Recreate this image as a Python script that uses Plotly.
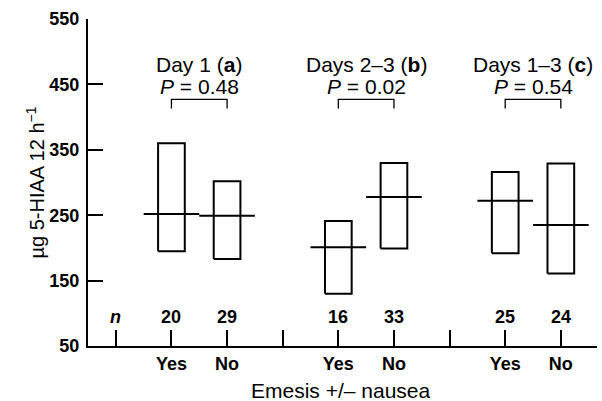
import plotly.graph_objects as go

# ---- data ----
groups = ["Day 1", "Days 2–3", "Days 1–3"]
group_letters = ["a", "b", "c"]
p_values = ["0.48", "0.02", "0.54"]
categories = ["Yes", "No", "Yes", "No", "Yes", "No"]
x_pos = [1, 2, 4, 5, 7, 8]
q_low = [195, 183, 130, 199, 192, 161]
q_high = [360, 302, 241, 330, 316, 329]
medians = [252, 249, 201, 278, 272, 235]
n_values = [20, 29, 16, 33, 25, 24]
y_ticks = [50, 150, 250, 350, 450, 550]

FONT = "Liberation Sans, Arial, Helvetica, sans-serif"
BOX_HALF = 0.24
MED_HALF = 0.5

fig = go.Figure()

# boxes
for x, lo, hi in zip(x_pos, q_low, q_high):
    fig.add_trace(go.Scatter(
        x=[x - BOX_HALF, x + BOX_HALF, x + BOX_HALF, x - BOX_HALF, x - BOX_HALF],
        y=[lo, lo, hi, hi, lo],
        mode="lines", line=dict(color="black", width=2),
        hoverinfo="skip", showlegend=False))
# medians
for x, m in zip(x_pos, medians):
    fig.add_trace(go.Scatter(
        x=[x - MED_HALF, x + MED_HALF], y=[m, m],
        mode="lines", line=dict(color="black", width=2),
        hoverinfo="skip", showlegend=False))

# brackets, titles, p values
for i, (g, letter, p) in enumerate(zip(groups, group_letters, p_values)):
    xa, xb = x_pos[2 * i], x_pos[2 * i + 1]
    fig.add_trace(go.Scatter(
        x=[xa, xa, xb, xb], y=[413, 427, 427, 413],
        mode="lines", line=dict(color="black", width=1.3),
        hoverinfo="skip", showlegend=False))
    mid = (xa + xb) / 2
    fig.add_annotation(x=mid, y=480, text=f"{g} (<b>{letter}</b>)",
                       showarrow=False, font=dict(size=21, family=FONT, color="black"))
    fig.add_annotation(x=mid, y=447, text=f"<i>P</i> = {p}",
                       showarrow=False, font=dict(size=21, family=FONT, color="black"))

# n row
fig.add_annotation(x=0, y=94, text="<i>n</i>", showarrow=False,
                   font=dict(size=18, family=FONT, color="black", weight="bold"))
for x, n in zip(x_pos, n_values):
    fig.add_annotation(x=x, y=94, text=str(n), showarrow=False,
                       font=dict(size=18, family=FONT, color="black", weight="bold"))

# y title
fig.add_annotation(xref="paper", yref="paper", x=0, y=0.5, xshift=-53,
                   text="µg 5-HIAA 12 h<sup>−1</sup>", textangle=-90,
                   showarrow=False, xanchor="center", yanchor="middle",
                   font=dict(size=20, family=FONT, color="black"))
# x title
fig.add_annotation(xref="paper", yref="paper", x=(341.5 - 88.3) / 508.7, y=0,
                   yshift=-44, text="Emesis +/– nausea",
                   showarrow=False, xanchor="center", yanchor="middle",
                   font=dict(size=21, family=FONT, color="black"))

tickvals_x = list(range(0, 9))
ticktext_x = [""] * 9
for x, c in zip(x_pos, categories):
    ticktext_x[x] = c

fig.update_layout(
    width=602, height=401,
    margin=dict(l=88, r=5, t=19, b=55),
    plot_bgcolor="white", paper_bgcolor="white",
    font=dict(family=FONT, color="black"),
    xaxis=dict(range=[-0.5, 8.65], tickvals=tickvals_x, ticktext=ticktext_x,
               ticks="inside", ticklen=16, tickwidth=2, tickcolor="black",
               showline=True, linewidth=2, linecolor="black", showgrid=False,
               zeroline=False, automargin=False,
               tickfont=dict(size=18, family=FONT, weight="bold")),
    yaxis=dict(range=[50, 550], tickvals=y_ticks,
               ticks="inside", ticklen=15, tickwidth=2, tickcolor="black",
               showline=True, linewidth=2, linecolor="black", showgrid=False,
               zeroline=False, automargin=False, ticklabelstandoff=3,
               tickfont=dict(size=18, family=FONT, weight="bold")),
)

fig.write_html("out.html", config={"displayModeBar": False},
               post_script="document.body.style.margin='0';")
